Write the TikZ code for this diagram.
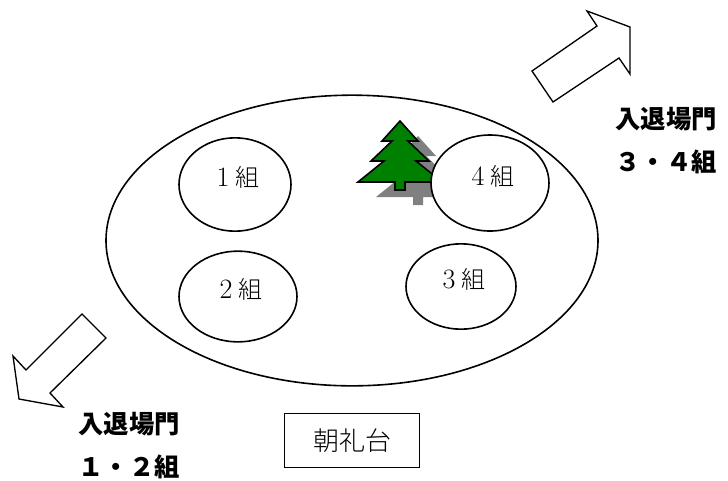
\documentclass[tikz,border=0pt]{standalone}
\usepackage{fontspec}
\newfontfamily\cjk{Noto Sans CJK JP}
\newfontfamily\cjklight{Noto Sans CJK JP Light}
\usetikzlibrary{shapes.geometric,positioning}

\begin{document}
\begin{tikzpicture}[x=0.75pt, y=-0.75pt,
			field/.style={ellipse, draw=black, line width=1.2pt, minimum width=369pt, minimum height=218pt},
			group/.style={ellipse, draw=black, fill=white, line width=1.2pt, inner sep=0},
			grouplabel/.style={font=\fontsize{18}{18}\selectfont, yshift=5pt},
			stage/.style={rectangle, draw=black, line width=1.2pt, minimum width=101pt, minimum height=40.5pt, font=\cjklight\fontsize{19.5}{19.5}\selectfont},
			gate/.style={inner sep=0, font=\cjk\bfseries\fontsize{19}{19}\selectfont},
			bigarrow/.style={draw=black, fill=white, line width=1pt, line join=miter},
			shadow/.style={fill=gray, draw=none},
			tree/.style={fill=green!50!black, draw=black, line width=1.2pt, line join=miter}]
			
			\useasboundingbox (0,0) rectangle (728,480);
			
			\node[field] (ground) at (352,240.5) {};
			
			\foreach \dx/\dy/\look in {18/15/shadow, 0/0/tree}
				\filldraw[\look, shift={(\dx,\dy)}] (400,121) -- (382,141) -- (392,141) -- (371,161) -- (384,161) -- (358,182) -- (395,182) -- (395,190) -- (405,190) -- (405,182) -- (442,182) -- (416,161) -- (429,161) -- (408,141) -- (418,141) -- cycle;
			
			\node[group, minimum width=84pt, minimum height=70pt, label={[grouplabel]center:\makebox[1em]{\fontsize{21}{21}\selectfont 1}{\cjklight 組}}] (g1) at (235,184.5) {};
			\node[group, minimum width=88.5pt, minimum height=68pt, label={[grouplabel]center:\makebox[1em]{\fontsize{21}{21}\selectfont 2}{\cjklight 組}}] (g2) at (238,296.5) {};
			\node[group, minimum width=82.5pt, minimum height=64pt, label={[grouplabel]center:\makebox[1em]{\fontsize{21}{21}\selectfont 3}{\cjklight 組}}] (g3) at (461,286.5) {};
			\node[group, minimum width=88.5pt, minimum height=72pt, label={[grouplabel]center:\makebox[1em]{\fontsize{21}{21}\selectfont 4}{\cjklight 組}}] (g4) at (490,183) {};
			
			\node[stage, below=19.5pt of ground] (stage) {朝礼台};
			
			\draw[bigarrow] (587,11) -- (630,27) -- (630,74) -- (619,58) -- (553,102) -- (532,71) -- (597,26) -- cycle;
			\draw[bigarrow] (82,314) -- (106,338) -- (50,393) -- (63,407) -- (19,399) -- (13,356) -- (26,370) -- cycle;
			
			\node[gate] (gateL) at (129,424) {入退場門};
			\node[gate, below=14pt of gateL] (classL) {１・２組};
			\node[gate] (gateR) at (666,119) {入退場門};
			\node[gate, below=14pt of gateR] (classR) {３・４組};
		\end{tikzpicture}
\end{document}
